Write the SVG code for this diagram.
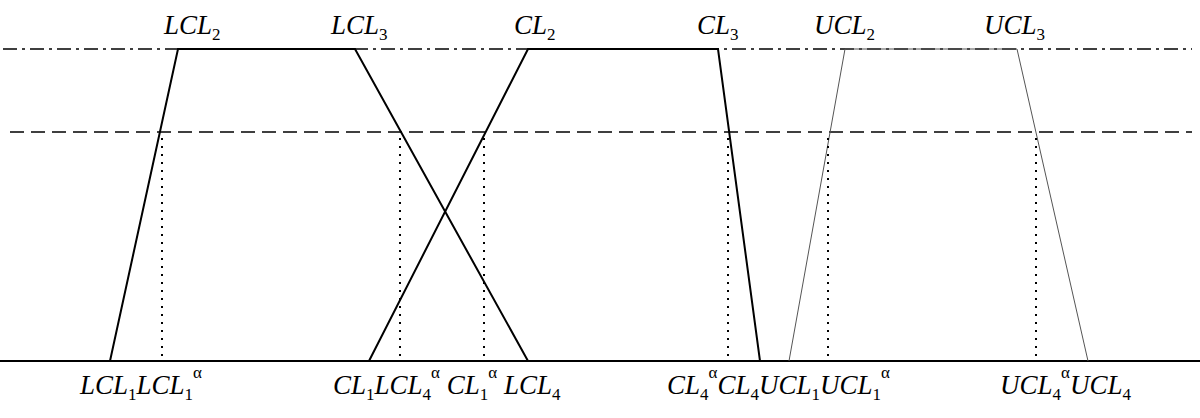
<svg xmlns="http://www.w3.org/2000/svg" width="1200" height="418" viewBox="0 0 1200 418">
<style>
.t{font-family:"Liberation Serif",serif;font-style:italic;font-size:27px;fill:#000}
.s{font-size:17px;font-style:normal}
.k{fill:none;stroke:#000;stroke-width:2}
.th{fill:none;stroke:#555;stroke-width:1}
.d{stroke:#000;stroke-width:2;stroke-dasharray:2,6}
</style>
<rect width="1200" height="418" fill="#fff"/>
<g id="axes">
<line x1="3" y1="49" x2="1192" y2="49" stroke="#000" stroke-width="1.5" stroke-dasharray="14,5,3,5"/>
<line x1="10" y1="132" x2="1192" y2="132" stroke="#000" stroke-width="1.5" stroke-dasharray="14,7"/>
<line x1="0" y1="361" x2="1200" y2="361" stroke="#000" stroke-width="2"/>
</g>
<g id="connectors">
<polyline class="k" points="110,361 178,49 355,49 528,361"/>
<polyline class="k" points="369,361 528,49 718,49 760,361"/>
<polyline class="th" points="789,361 845,49 1017,49 1088,361"/>
<line class="d" x1="162" y1="138" x2="162" y2="361"/>
<line class="d" x1="400" y1="138" x2="400" y2="361"/>
<line class="d" x1="484" y1="138" x2="484" y2="361"/>
<line class="d" x1="728" y1="138" x2="728" y2="361"/>
<line class="d" x1="828" y1="138" x2="828" y2="361"/>
<line class="d" x1="1036" y1="138" x2="1036" y2="361"/>
</g>
<g id="top-labels">
<text class="t" x="164" y="34">LCL<tspan class="s" dy="6">2</tspan></text>
<text class="t" x="331" y="34">LCL<tspan class="s" dy="6">3</tspan></text>
<text class="t" x="514" y="34">CL<tspan class="s" dy="6">2</tspan></text>
<text class="t" x="697" y="34">CL<tspan class="s" dy="6">3</tspan></text>
<text class="t" x="814" y="34">UCL<tspan class="s" dy="6">2</tspan></text>
<text class="t" x="984" y="34">UCL<tspan class="s" dy="6">3</tspan></text>
</g>
<g id="bottom-labels">
<text class="t" x="80" y="394">LCL<tspan class="s" dy="6">1</tspan><tspan dy="-6">LCL</tspan><tspan class="s" dy="6">1</tspan><tspan class="s" dy="-22" font-style="italic">α</tspan></text>
<text class="t" x="333" y="394">CL<tspan class="s" dy="6">1</tspan><tspan dy="-6">LCL</tspan><tspan class="s" dy="6">4</tspan><tspan class="s" dy="-22" font-style="italic">α</tspan><tspan dy="16"> CL</tspan><tspan class="s" dy="6">1</tspan><tspan class="s" dy="-22" font-style="italic">α</tspan><tspan dy="16"> LCL</tspan><tspan class="s" dy="6">4</tspan></text>
<text class="t" x="667" y="394">CL<tspan class="s" dy="6">4</tspan><tspan class="s" dy="-22" font-style="italic">α</tspan><tspan dy="16">CL</tspan><tspan class="s" dy="6">4</tspan><tspan dy="-6">UCL</tspan><tspan class="s" dy="6">1</tspan><tspan dy="-6">UCL</tspan><tspan class="s" dy="6">1</tspan><tspan class="s" dy="-22" font-style="italic">α</tspan></text>
<text class="t" x="1000" y="394">UCL<tspan class="s" dy="6">4</tspan><tspan class="s" dy="-22" font-style="italic">α</tspan><tspan dy="16">UCL</tspan><tspan class="s" dy="6">4</tspan></text>
</g>
</svg>
